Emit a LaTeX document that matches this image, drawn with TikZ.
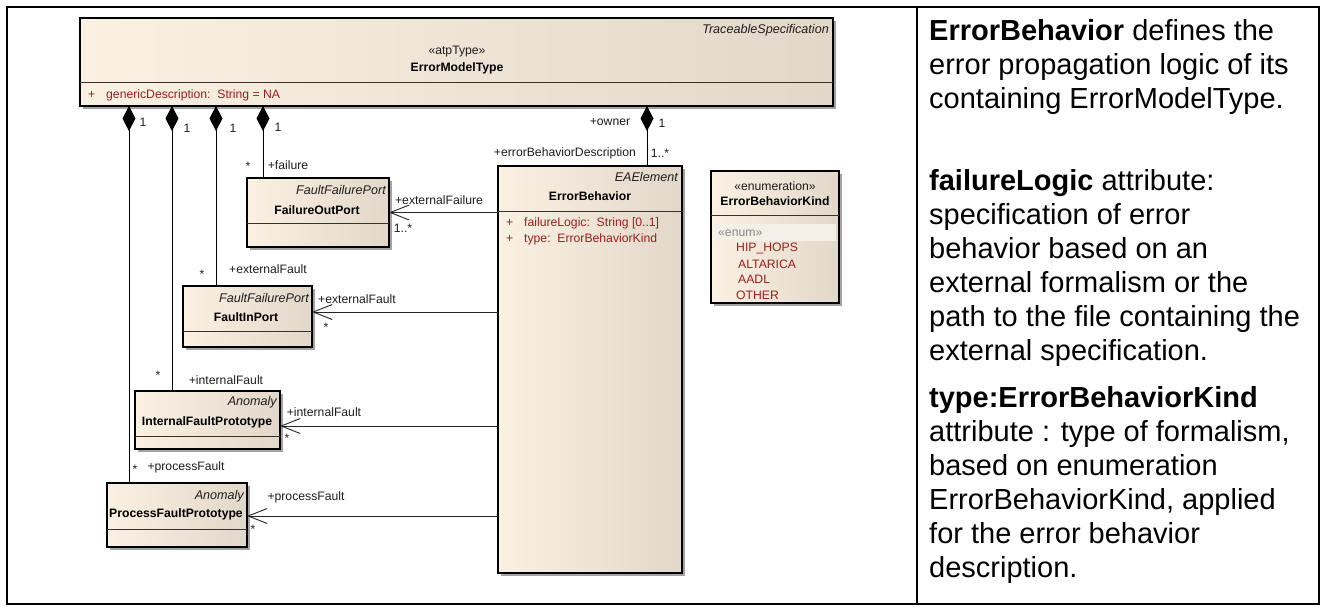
\documentclass[tikz,border=0pt]{standalone}
\usepackage{fontspec}
\setmainfont{Liberation Sans}
\usetikzlibrary{arrows.meta,shadows}

\definecolor{eaL}{RGB}{250,241,226}
\definecolor{eaR}{RGB}{225,216,201}
\definecolor{attr}{RGB}{155,30,30}
\definecolor{ink}{RGB}{30,30,30}
\definecolor{stereo}{RGB}{135,135,135}
\definecolor{enumband}{RGB}{244,239,231}

\tikzset{
  classbox/.style={draw=black, line width=1.1pt, left color=eaL, middle color=eaL,
    right color=eaR, inner sep=0pt, outer sep=0pt, anchor=north west,
    drop shadow={shadow xshift=3pt, shadow yshift=-3pt, fill=black!45, opacity=0.8}},
  sepline/.style={draw=black!80, line width=1pt},
  lbl/.style={font=\fontsize{12.2}{14}\selectfont, text=ink, inner sep=0pt},
  clsname/.style={font=\bfseries\fontsize{12.2}{14}\selectfont, text=black, inner sep=0pt},
  parent/.style={font=\itshape\fontsize{12.6}{14}\selectfont, text=ink, inner sep=0pt, anchor=east},
  attrtxt/.style={font=\fontsize{12.2}{14}\selectfont, text=attr, inner sep=0pt, anchor=west},
  comp/.style={line width=0.9pt, draw=black, {Diamond[length=25pt,width=13pt]}-},
  assoc/.style={line width=0.9pt, draw=black!85, -{Straight Barb[length=19pt,width=15pt]}},
  note/.style={font=\fontsize{29}{34}\selectfont, align=left, anchor=north west, inner sep=0pt},
}

\begin{document}
\begin{tikzpicture}[x=1pt,y=-1pt]
\useasboundingbox (0,0) rectangle (1325,606);
\fill[white] (0,0) rectangle (1325,606);

% outer frame and column divider
\draw[line width=2pt] (7,7) rectangle (1319,604);
\draw[line width=2pt] (917,7) -- (917,604);

% ---------- classes ----------
\node[classbox, minimum width=753pt, minimum height=88pt] (emt) at (80,18) {};
\node[classbox, minimum width=184pt, minimum height=407pt] (eb) at (498,166) {};
\node[classbox, minimum width=128pt, minimum height=132pt] (ebk) at (711,171) {};
\node[classbox, minimum width=142pt, minimum height=69pt] (fop) at (247,178) {};
\node[classbox, minimum width=129pt, minimum height=61pt] (fip) at (183,286) {};
\node[classbox, minimum width=145pt, minimum height=58pt] (ifp) at (135,391) {};
\node[classbox, minimum width=140pt, minimum height=64pt] (pfp) at (107,483) {};

% compartment separators
\draw[sepline] (emt.west |- 0,82) -- (emt.east |- 0,82);
\draw[sepline] (eb.west |- 0,211) -- (eb.east |- 0,211);
\draw[sepline] (ebk.west |- 0,215) -- (ebk.east |- 0,215);
\draw[sepline] (fop.west |- 0,223) -- (fop.east |- 0,223);
\draw[sepline] (fip.west |- 0,331) -- (fip.east |- 0,331);
\draw[sepline] (ifp.west |- 0,436) -- (ifp.east |- 0,436);
\draw[sepline] (pfp.west |- 0,529) -- (pfp.east |- 0,529);

% ErrorModelType
\node[parent] (emtp) at (829,30) {TraceableSpecification};
\node[lbl] (emts) at (457,52) {«atpType»};
\node[clsname] (emtn) at (457,68) {ErrorModelType};
\node[attrtxt] (emta0) at (88,95) {+};
\node[attrtxt] (emta1) at (106,95) {genericDescription:\ \ String = NA};

% ErrorBehavior
\node[parent] (ebp) at (678,177) {EAElement};
\node[clsname] (ebn) at (590,196) {ErrorBehavior};
\node[attrtxt] (eba0) at (506,223) {+};
\node[attrtxt] (eba1) at (524,223) {failureLogic:\ \ String [0..1]};
\node[attrtxt] (eba2) at (506,239) {+};
\node[attrtxt] (eba3) at (524,239) {type:\ \ ErrorBehaviorKind};

% ErrorBehaviorKind
\node[lbl] (ebks) at (775,186) {«enumeration»};
\node[clsname] (ebkn) at (775,201) {ErrorBehaviorKind};
\fill[enumband] (714,224) rectangle (836,241);
\node[attrtxt, text=stereo] (ebke) at (718,233) {«enum»};
\node[attrtxt] (ebk1) at (736,248) {HIP\_HOPS};
\node[attrtxt] (ebk2) at (738,264) {ALTARICA};
\node[attrtxt] (ebk3) at (738,279) {AADL};
\node[attrtxt] (ebk4) at (736,295) {OTHER};

% ports and prototypes
\node[parent] (fopp) at (386,190) {FaultFailurePort};
\node[clsname] (fopn) at (317,210) {FailureOutPort};
\node[parent] (fipp) at (309,298) {FaultFailurePort};
\node[clsname] (fipn) at (246,317) {FaultInPort};
\node[parent] (ifpp) at (277,402) {Anomaly};
\node[clsname] (ifpn) at (207,422) {InternalFaultPrototype};
\node[parent] (pfpp) at (244,496) {Anomaly};
\node[clsname] (pfpn) at (176,514) {ProcessFaultPrototype};

% ---------- compositions ----------
\coordinate (c1) at (129,0);
\coordinate (c2) at (172,0);
\coordinate (c3) at (216,0);
\coordinate (c4) at (263,0);
\coordinate (c5) at (647,0);
\draw[comp] (emt.south -| c1) -- (pfp.north -| c1);
\draw[comp] (emt.south -| c2) -- (ifp.north -| c2);
\draw[comp] (emt.south -| c3) -- (fip.north -| c3);
\draw[comp] (emt.south -| c4) -- (fop.north -| c4);
\draw[comp] (emt.south -| c5) -- (eb.north -| c5);

\node[lbl] (m1) at (143,122) {1};
\node[lbl] (m2) at (187,128) {1};
\node[lbl] (m3) at (233,128) {1};
\node[lbl] (m4) at (278,127) {1};
\node[lbl] (m5) at (662,123) {1};
\node[lbl] (r5) at (610,122) {+owner};
\node[lbl] (r5b) at (565,153) {+errorBehaviorDescription};
\node[lbl] (m5b) at (660,153) {1..*};

\node[lbl] (s4) at (248,166) {*};
\node[lbl] (r4) at (288,165) {+failure};
\node[lbl] (s3) at (202,274) {*};
\node[lbl] (r3) at (268,269) {+externalFault};
\node[lbl] (s2) at (158,375) {*};
\node[lbl] (r2) at (226,380) {+internalFault};
\node[lbl] (s1) at (135,469) {*};
\node[lbl] (r1) at (186,467) {+processFault};

% ---------- associations ----------
\coordinate (a2) at (0,312);
\coordinate (a3) at (0,426);
\coordinate (a4) at (0,516);
\draw[assoc] (eb.west |- fop.east) -- (fop.east);
\draw[assoc] (eb.west |- a2) -- (fip.east |- a2);
\draw[assoc] (eb.west |- a3) -- (ifp.east |- a3);
\draw[assoc] (eb.west |- a4) -- (pfp.east |- a4);

\node[lbl] (e1) at (439,200) {+externalFailure};
\node[lbl] (e1m) at (403,228) {1..*};
\node[lbl] (e2) at (357,299) {+externalFault};
\node[lbl] (e2m) at (326,327) {*};
\node[lbl] (e3) at (324,412) {+internalFault};
\node[lbl] (e3m) at (287,438) {*};
\node[lbl] (e4) at (306,497) {+processFault};
\node[lbl] (e4m) at (253,529) {*};

% ---------- description column ----------
\node[note] (n1) at (929,19) {\textbf{ErrorBehavior} defines the\\error propagation logic of its\\containing ErrorModelType.};
\node[note] (n2) at (929,169) {\textbf{failureLogic} attribute:\\specification of error\\behavior based on an\\external formalism or the\\path to the file containing the\\external specification.};
\node[note] (n3) at (929,386) {\textbf{type:ErrorBehaviorKind}\\attribute : type of formalism,\\based on enumeration\\ErrorBehaviorKind, applied\\for the error behavior\\description.};
\end{tikzpicture}
\end{document}
